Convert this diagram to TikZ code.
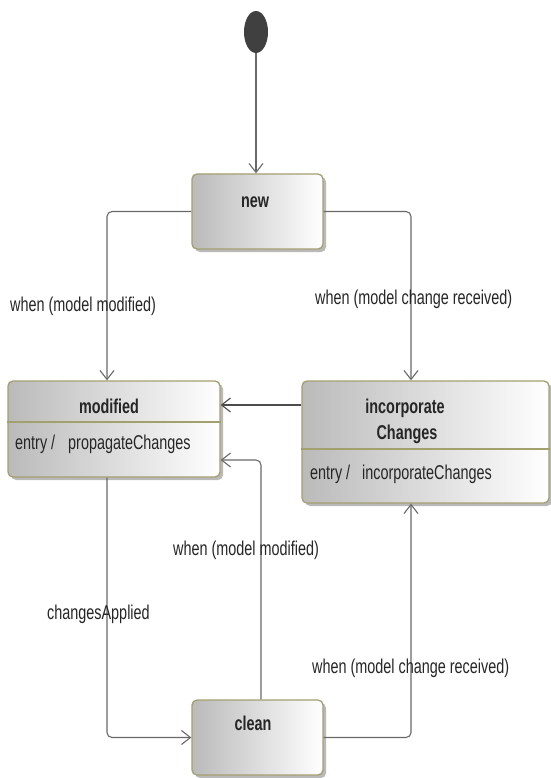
\documentclass[tikz,border=0pt]{standalone}
\usepackage{fontspec}
\setmainfont{Liberation Sans}[FakeStretch=0.72]
\usepackage{tikz}
\usetikzlibrary{arrows.meta,shapes.geometric,shadows,positioning}

\definecolor{statebd}{RGB}{163,160,112}
\definecolor{wire}{RGB}{105,105,105}

\begin{document}
\begin{tikzpicture}[x=1pt,y=-1pt,
    state/.style={draw=statebd, line width=1.3pt, rounded corners=5pt, inner sep=0pt,
      left color=black!27, right color=white,
      drop shadow={shadow xshift=3pt, shadow yshift=-3pt, fill=black!50, opacity=.55}},
    trans/.style={draw=wire, line width=1.1pt, rounded corners=5pt, -{Straight Barb[length=9pt,width=14pt]}},
    lbl/.style={font=\fontsize{20}{24}\selectfont, text=black!85, inner sep=0pt, anchor=base west},
    title/.style={lbl, font=\fontsize{20}{24}\selectfont\bfseries, anchor=base},
    divider/.style={draw=statebd, line width=1.3pt}]
    \useasboundingbox[fill=white] (0,0) rectangle (550,778);

    % states
    \node[ellipse, fill=black!75, minimum width=24pt, minimum height=42pt, inner sep=0pt] (init) at (256,32) {};
    \node[state, minimum width=131pt, minimum height=75pt] (new) at (257.5,211.5) {};
    \node[state, minimum width=212pt, minimum height=96pt] (modified) at (114,429) {};
    \node[state, minimum width=247pt, minimum height=122pt] (incorp) at (425.5,442) {};
    \node[state, minimum width=131pt, minimum height=75pt] (clean) at (257.5,737.5) {};

    \draw[divider] (modified.west |- 0,422) -- (modified.east |- 0,422);
    \draw[divider] (incorp.west |- 0,449) -- (incorp.east |- 0,449);

    \node[title] (newname) at (255,207) {new};
    \node[title] (modname) at (109,413) {modified};
    \node[title] (incname) at (405,413) {incorporate};
    \node[title] (incname2) at (407,439) {Changes};
    \node[title] (cleanname) at (253,730) {clean};
    \node[lbl] (modentry) at (15,449) {entry /\hspace{13pt}propagateChanges};
    \node[lbl] (incentry) at (310,479) {entry /\hspace{12pt}incorporateChanges};

    % transitions
    \coordinate (lft) at (107,0);
    \coordinate (rgt) at (411,0);
    \coordinate (mid) at (261,0);
    \coordinate (row1) at (0,405);
    \coordinate (row2) at (0,460);

    \draw[trans] (init.south) -- (init.south |- new.north);
    \draw[trans] (new.west) -| (lft |- modified.north);
    \draw[trans] (new.east) -| (rgt |- incorp.north);
    \draw[trans, draw=black!70] (incorp.west |- row1) -- (modified.east |- row1);
    \draw[trans] (modified.south -| lft) |- (clean.west);
    \draw[trans] (clean.north -| mid) |- (modified.east |- row2);
    \draw[trans] (clean.east) -| (rgt |- incorp.south);

    \node[lbl] (lblnewmod) at (10,311) {when (model modified)};
    \node[lbl] (lblnewinc) at (315,304) {when (model change received)};
    \node[lbl] (lblcleanmod) at (173,555) {when (model modified)};
    \node[lbl] (lblapplied) at (47,619) {changesApplied};
    \node[lbl] (lblcleaninc) at (312,673) {when (model change received)};
\end{tikzpicture}
\end{document}
